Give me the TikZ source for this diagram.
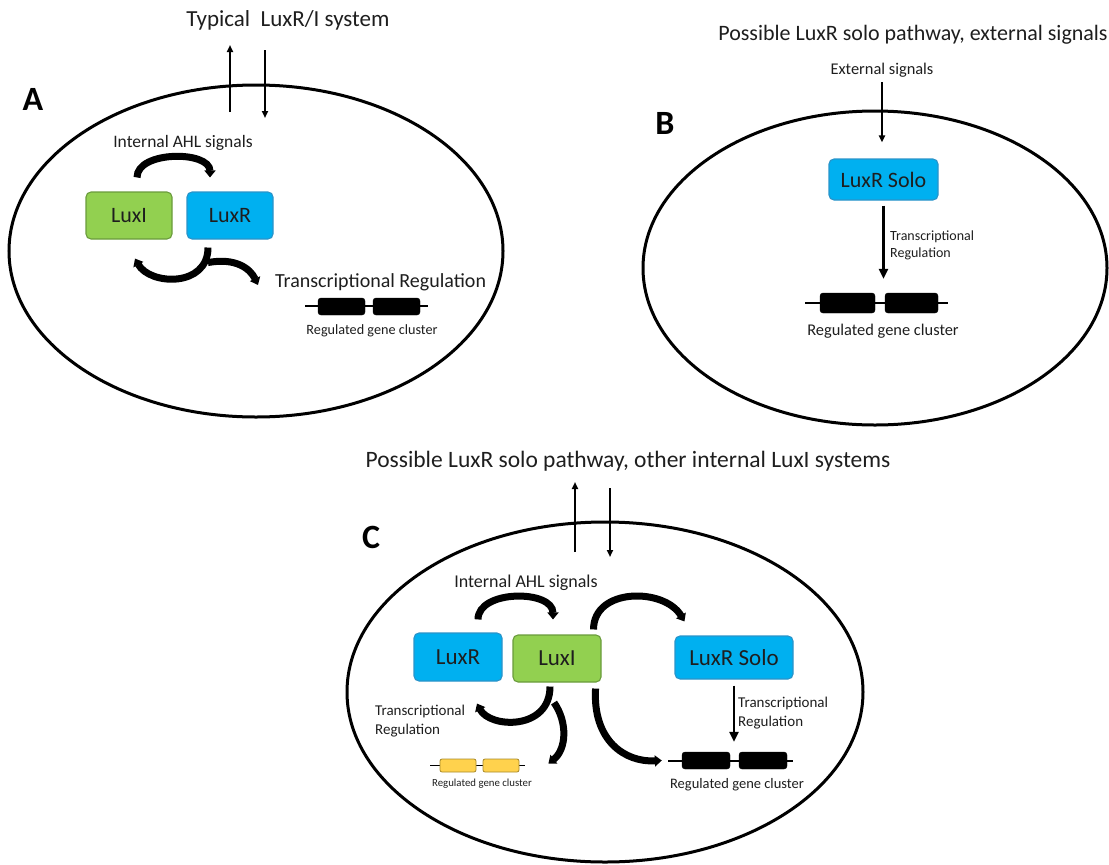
\documentclass[tikz,border=0pt]{standalone}
\usepackage{fontspec}
\setmainfont{Carlito}
\usetikzlibrary{arrows.meta,calc,positioning}
\definecolor{luxgreen}{HTML}{92D050}
\definecolor{luxgreenline}{HTML}{6A9B3C}
\definecolor{luxblue}{HTML}{00B0F0}
\definecolor{luxblueline}{HTML}{2A93C9}
\definecolor{geneyellow}{HTML}{FFD24D}
\definecolor{geneyellowline}{HTML}{A88A2A}
\definecolor{txtgray}{HTML}{1E1E1E}
\newcommand{\pxfont}[1]{\fontsize{#1}{#1}\selectfont}
\begin{document}
\begin{tikzpicture}[x=1pt, y=-1pt,
  every node/.style={text=txtgray, inner sep=0pt},
  cell/.style={line width=3pt},
  panel/.style={font=\pxfont{34}\bfseries, text=black},
  title/.style={font=\pxfont{22}},
  protbox/.style={draw, rounded corners=5pt, line width=1.1pt, minimum height=47pt, font=\pxfont{22}},
  luxI/.style={protbox, fill=luxgreen, draw=luxgreenline},
  luxR/.style={protbox, fill=luxblue, draw=luxblueline},
  genebox/.style={fill=black, draw=black, rounded corners=3pt, minimum height=17pt},
  yelbox/.style={fill=geneyellow, draw=geneyellowline, rounded corners=2pt, minimum height=13pt, line width=0.8pt},
  dna/.style={line width=1.5pt},
  memarrow/.style={line width=2pt, -{Triangle[width=6pt,length=7pt]}},
  txarrow/.style={line width=2.5pt, -{Triangle[width=9pt,length=10pt]}},
  sigarc/.style={line width=7pt, -{Triangle[width=11pt,length=7pt]}}]
  \useasboundingbox (0,0) rectangle (1109,865);

  \draw[cell] (256,251) ellipse [x radius=247pt, y radius=166pt];
  \draw[cell] (875,268) ellipse [x radius=232pt, y radius=157pt];
  \draw[cell] (605,692) ellipse [x radius=258pt, y radius=170pt];

  \node[panel] (labA) at (33,99) {A};
  \node[panel] (labB) at (665,123) {B};
  \node[panel] (labC) at (371,537) {C};

  \node[title, font=\pxfont{23}] (titleA) at (288,20) {Typical~ LuxR/I system};
  \node[title] (titleB) at (913,35) {Possible LuxR solo pathway, external signals};
  \node[title, font=\pxfont{23.5}] (titleC) at (628,461) {Possible LuxR solo pathway, other internal LuxI systems};

  \coordinate (outA0) at (230,112); \coordinate (outA1) at (230,45);
  \coordinate (inA0) at (265,50);   \coordinate (inA1) at (265,118);
  \draw[memarrow] (outA0) -- (outA1);
  \draw[memarrow] (inA0) -- (inA1);

  \node[luxI, minimum width=86pt] (luxIA) at (129,215.5) {LuxI};
  \node[luxR, minimum width=86pt] (luxRA) at (230,215.5) {LuxR};
  \node[font=\pxfont{17.5}] (ahlA) at (183,143) {Internal AHL signals};
  \node[font=\pxfont{20}, anchor=west] (trA) at (275,282) {Transcriptional Regulation};

  \draw[sigarc] ($(luxIA.north)+(8,-14)$) .. controls +(0,-27) and +(0,-27) .. ($(luxRA.north)+(-20,-14)$);
  \draw[sigarc] ($(luxRA.south)+(-22,8)$) .. controls +(0,40) and +(15,27) .. ($(luxIA.south)+(6,19)$);
  \draw[sigarc] ($(luxRA.south)+(-22,23)$) .. controls +(27,-5) and +(-8,-17) .. ($(trA.west)+(-17,3)$);

  \coordinate (dnaA0) at (305,306); \coordinate (dnaA1) at (428,306);
  \draw[dna] (dnaA0) -- (dnaA1);
  \node[genebox, minimum width=47pt] (gA1) at (341.5,306.5) {};
  \node[genebox, minimum width=47pt] (gA2) at (396.5,306.5) {};
  \node[font=\pxfont{14.2}] (regA) at (372,331) {Regulated gene cluster};

  \node[font=\pxfont{16.4}] (extB) at (882,70) {External signals};
  \node[luxR, minimum width=109pt, minimum height=41pt] (soloB) at (883.5,179.5) {LuxR Solo};
  \coordinate (dnaB0) at (805,303); \coordinate (dnaB1) at (948,303);
  \draw[dna] (dnaB0) -- (dnaB1);
  \node[genebox, minimum width=55pt, minimum height=20pt] (gB1) at (847.5,303) {};
  \node[genebox, minimum width=53pt, minimum height=20pt] (gB2) at (911.5,303) {};
  \node[font=\pxfont{16.4}] (regB) at (883,331) {Regulated gene cluster};
  \node[font=\pxfont{14}, align=left, anchor=west] (trB) at (890,245.5) {Transcriptional\\[3pt]Regulation};
  \draw[memarrow, shorten <=5pt, shorten >=16pt] (extB.south) -- (extB.south |- soloB.north);
  \draw[txarrow, shorten <=5pt, shorten >=14pt] (soloB.south) -- (soloB.south |- gB1.north);

  \coordinate (outC0) at (575,552); \coordinate (outC1) at (575,482);
  \coordinate (inC0) at (610,488);  \coordinate (inC1) at (610,557);
  \draw[memarrow] (outC0) -- (outC1);
  \draw[memarrow] (inC0) -- (inC1);

  \node[luxR, minimum width=88pt, minimum height=48pt, font=\pxfont{23}] (luxRC) at (458,657) {LuxR};
  \node[luxI, minimum width=88pt, font=\pxfont{23}] (luxIC) at (557,658.5) {LuxI};
  \node[luxR, minimum width=118pt, minimum height=43pt, font=\pxfont{23}] (soloC) at (734,657.5) {LuxR Solo};
  \node[font=\pxfont{18}] (ahlC) at (526,583) {Internal AHL signals};

  \coordinate (dnaC0) at (668,761); \coordinate (dnaC1) at (793,761);
  \draw[dna] (dnaC0) -- (dnaC1);
  \node[genebox, minimum width=48pt] (gC1) at (706,760.5) {};
  \node[genebox, minimum width=48pt] (gC2) at (763,760.5) {};
  \node[font=\pxfont{14.5}] (regC) at (737,785) {Regulated gene cluster};

  \coordinate (dnaY0) at (430,765.5); \coordinate (dnaY1) at (525,765.5);
  \draw[dna, line width=1pt] (dnaY0) -- (dnaY1);
  \node[yelbox, minimum width=36pt] (gY1) at (458,765.5) {};
  \node[yelbox, minimum width=36pt] (gY2) at (501,765.5) {};
  \node[font=\pxfont{10.8}] (regY) at (482,784) {Regulated gene cluster};

  \node[font=\pxfont{15}, align=left, anchor=west] (trCl) at (375,721) {Transcriptional\\[4pt]Regulation};
  \node[font=\pxfont{15}, align=left, anchor=west] (trCr) at (738,713) {Transcriptional\\[4pt]Regulation};

  \draw[sigarc] ($(luxRC.north)+(20,-13)$) .. controls +(0,-30) and +(0,-30) .. ($(luxIC.north)+(-4,-15)$);
  \draw[sigarc] ($(luxIC.north east)+(-8,-5)$) .. controls +(0,-42) and +(-20,-34) .. ($(soloC.north west)+(10,-14)$);
  \draw[sigarc] ($(luxIC.south)+(-7,4)$) .. controls +(0,44) and +(13,25) .. ($(luxRC.south)+(19,22)$);
  \draw[sigarc] ($(luxIC.south)+(-3,20)$) .. controls +(14,20) and +(18,-14) .. ($(gY2.east)+(29,-2)$);
  \draw[sigarc] ($(luxIC.south east)+(-6,6)$) .. controls +(-3,52) and +(-37,2) .. ($(gC1.west)+(-20,0)$);
  \draw[txarrow, shorten <=6pt, shorten >=10pt] (soloC.south) -- (soloC.south |- gC1.north);
\end{tikzpicture}
\end{document}
